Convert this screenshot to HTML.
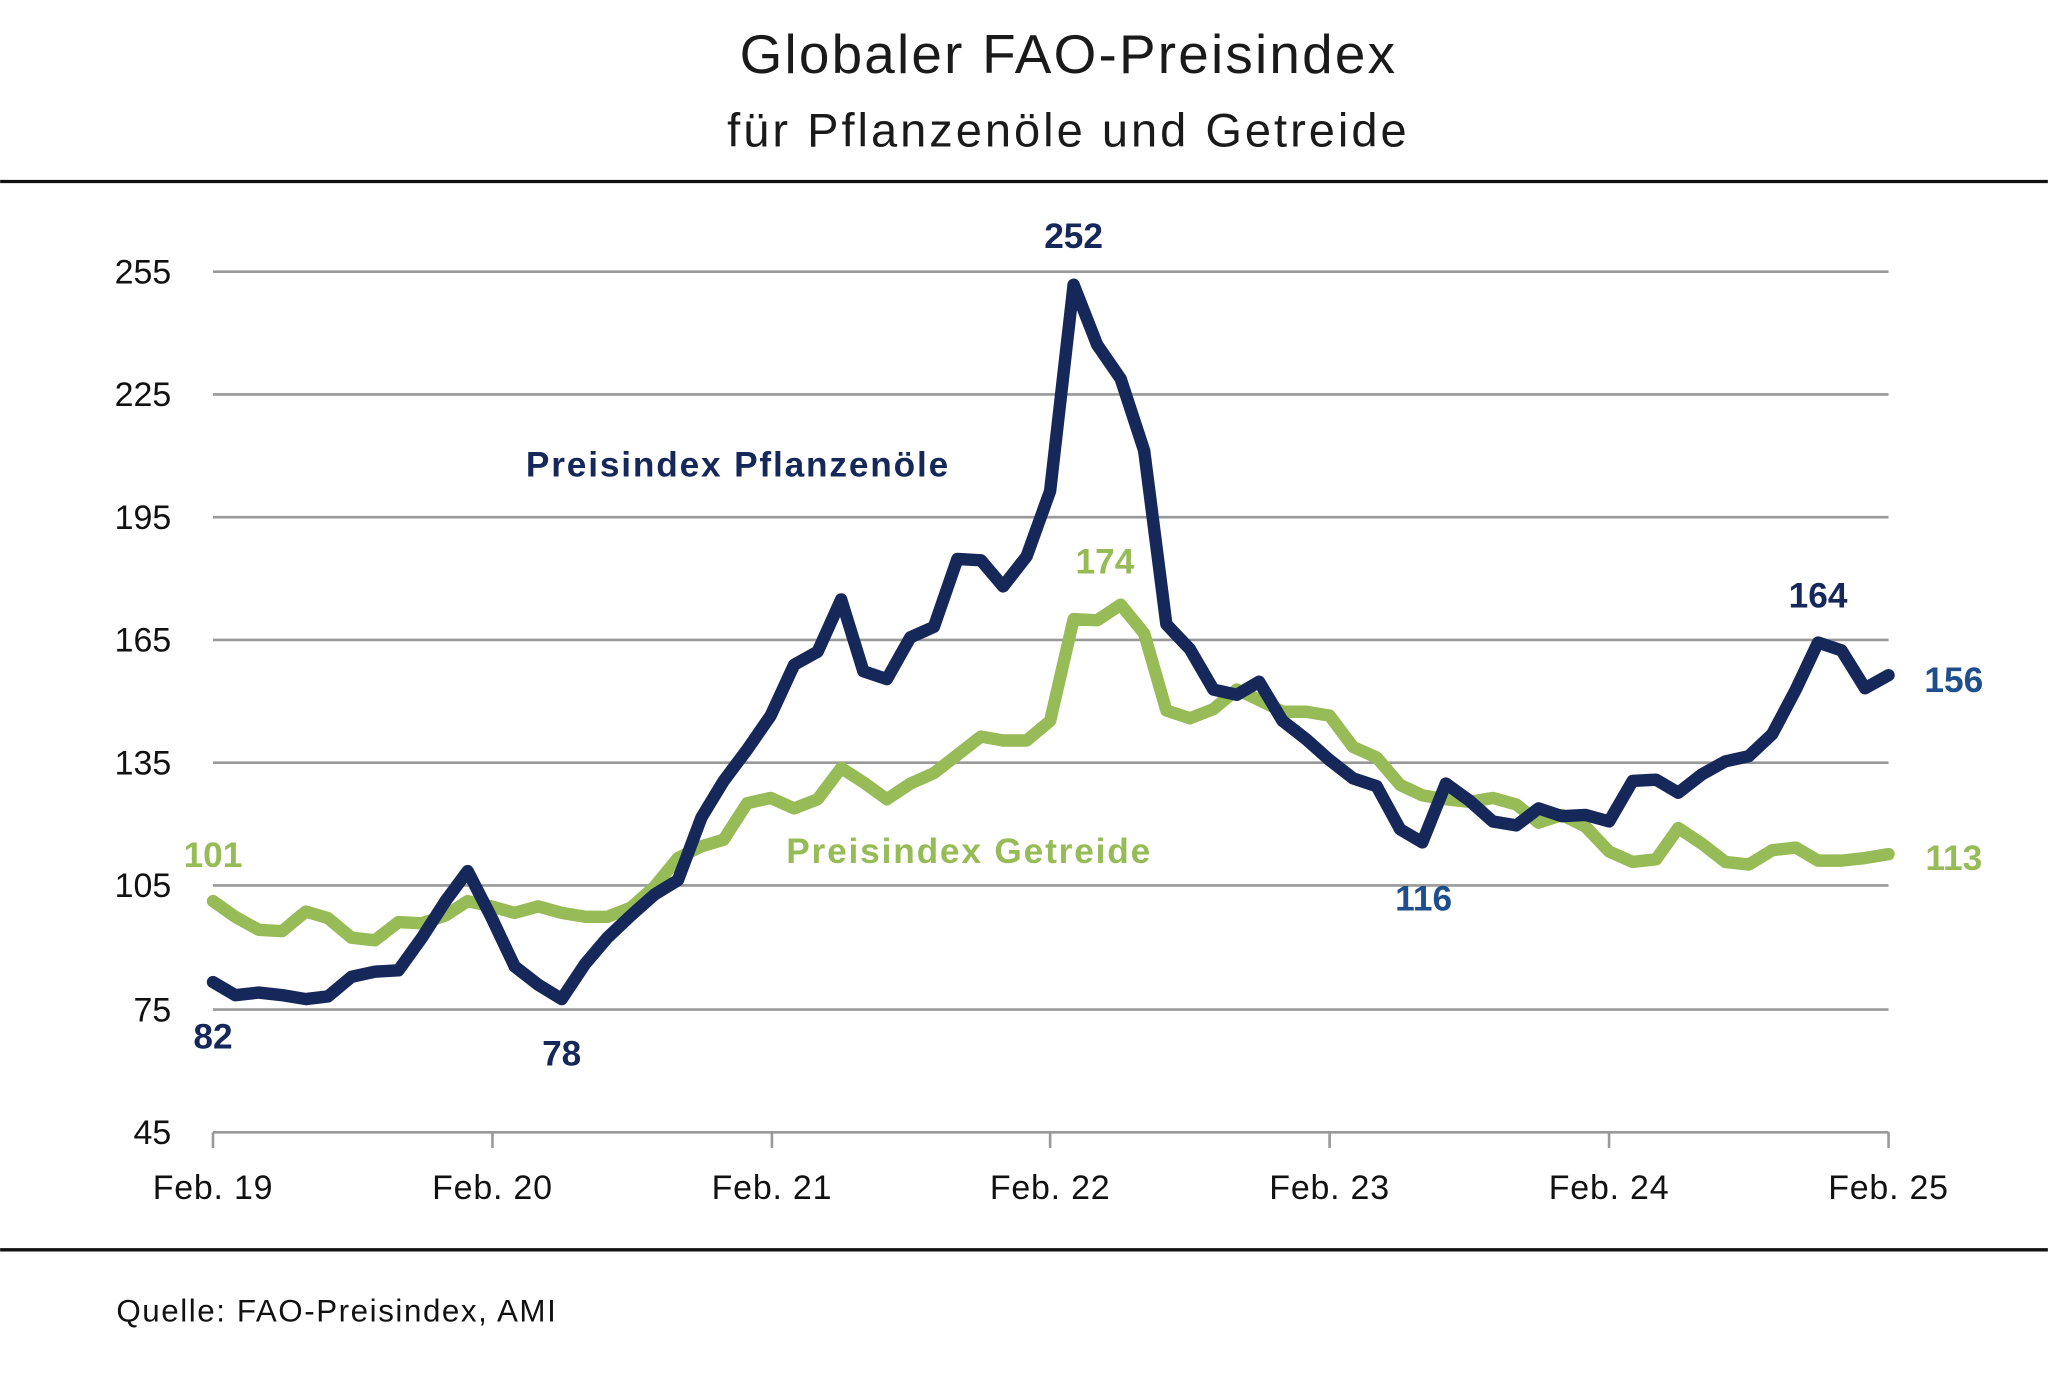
<!DOCTYPE html>
<html><head><meta charset="utf-8"><style>
html,body{margin:0;padding:0;background:#fff;}
svg{display:block;}
text{font-family:"Liberation Sans",sans-serif;}
</style></head><body>
<svg width="2048" height="1400" viewBox="0 0 1568 1072" xmlns="http://www.w3.org/2000/svg">
<rect width="1568" height="1072" fill="#fff"/>
<text x="818" y="56" font-size="42" text-anchor="middle" fill="#1a1a1a" letter-spacing="1.7">Globaler FAO-Preisindex</text>
<text x="818" y="112" font-size="36" text-anchor="middle" fill="#1a1a1a" letter-spacing="2.3">für Pflanzenöle und Getreide</text>
<line x1="0" y1="139" x2="1568" y2="139" stroke="#111" stroke-width="2.5"/>
<line x1="0" y1="957" x2="1568" y2="957" stroke="#111" stroke-width="2.5"/>
<g stroke="#999" stroke-width="2">
<line x1="163" y1="208" x2="1446" y2="208"/>
<line x1="163" y1="302" x2="1446" y2="302"/>
<line x1="163" y1="396" x2="1446" y2="396"/>
<line x1="163" y1="490" x2="1446" y2="490"/>
<line x1="163" y1="584" x2="1446" y2="584"/>
<line x1="163" y1="678" x2="1446" y2="678"/>
<line x1="163" y1="773" x2="1446" y2="773"/>
<line x1="163" y1="867" x2="1446" y2="867"/>
<line x1="163" y1="867" x2="163" y2="879"/>
<line x1="377" y1="867" x2="377" y2="879"/>
<line x1="591" y1="867" x2="591" y2="879"/>
<line x1="804" y1="867" x2="804" y2="879"/>
<line x1="1018" y1="867" x2="1018" y2="879"/>
<line x1="1232" y1="867" x2="1232" y2="879"/>
<line x1="1446" y1="867" x2="1446" y2="879"/>
</g>
<g font-size="26" fill="#111" text-anchor="end">
<text x="131" y="217">255</text><text x="131" y="311">225</text><text x="131" y="405">195</text>
<text x="131" y="499">165</text><text x="131" y="593">135</text><text x="131" y="687">105</text>
<text x="131" y="782">75</text><text x="131" y="876">45</text>
</g>
<g font-size="26" fill="#111" text-anchor="middle" letter-spacing="0.6">
<text x="163" y="918">Feb. 19</text><text x="377" y="918">Feb. 20</text><text x="591" y="918">Feb. 21</text>
<text x="804" y="918">Feb. 22</text><text x="1018" y="918">Feb. 23</text><text x="1232" y="918">Feb. 24</text>
<text x="1446" y="918">Feb. 25</text>
</g>
<polyline fill="none" stroke="#97bb57" stroke-width="9.5" stroke-linejoin="round" stroke-linecap="round" points="163,690 180,702 198,712 216,713 234,698 251,703 269,718 287,720 305,706 323,707 341,701 358,690 376,694 394,699 412,694 430,699 448,702 465,702 483,695 501,679 519,657 537,648 554,643 572,615 590,611 608,619 626,612 644,588 661,599 679,612 697,600 715,592 733,578 751,564 768,567 786,567 804,552 822,474 840,475 858,463 876,485 893,544 911,550 929,543 947,528 964,536 982,545 1000,545 1018,548 1036,572 1054,580 1072,601 1089,609 1107,612 1125,614 1143,611 1161,616 1178,630 1196,624 1214,633 1232,652 1250,660 1268,658 1285,634 1303,646 1321,660 1339,662 1357,651 1375,649 1392,659 1410,659 1428,657 1446,654"/>
<polyline fill="none" stroke="#16285a" stroke-width="9.5" stroke-linejoin="round" stroke-linecap="round" points="163,752 180,762 198,760 216,762 234,765 251,763 269,748 287,744 305,743 323,718 341,690 358,667 376,702 394,740 412,754 430,765 448,738 465,718 483,701 501,685 519,674 537,626 554,598 572,574 590,548 608,509 626,499 644,459 661,514 679,520 697,488 715,480 733,428 751,429 768,449 786,426 804,376 822,218 840,264 858,290 876,345 893,478 911,497 929,528 947,532 964,522 982,552 1000,566 1018,582 1036,596 1054,602 1072,635 1089,645 1107,600 1125,613 1143,629 1161,632 1178,619 1196,625 1214,624 1232,629 1250,598 1268,597 1285,607 1303,593 1321,583 1339,579 1357,562 1375,528 1392,492 1410,498 1428,527 1446,517"/>
<g font-size="27" font-weight="bold">
<text x="565" y="365" text-anchor="middle" fill="#16285a" letter-spacing="1.4">Preisindex Pflanzenöle</text>
<text x="742" y="661" text-anchor="middle" fill="#97bb57" letter-spacing="1.4">Preisindex Getreide</text>
<text x="822" y="190" text-anchor="middle" fill="#16285a">252</text>
<text x="846" y="439" text-anchor="middle" fill="#97bb57">174</text>
<text x="1392" y="465" text-anchor="middle" fill="#16285a">164</text>
<text x="1496" y="530" text-anchor="middle" fill="#1f4e8c">156</text>
<text x="1496" y="666" text-anchor="middle" fill="#97bb57">113</text>
<text x="1090" y="697" text-anchor="middle" fill="#1f4e8c">116</text>
<text x="163" y="664" text-anchor="middle" fill="#97bb57">101</text>
<text x="163" y="803" text-anchor="middle" fill="#16285a">82</text>
<text x="430" y="816" text-anchor="middle" fill="#16285a">78</text>
</g>
<text x="89" y="1012" font-size="24" fill="#111" letter-spacing="1.2">Quelle: FAO-Preisindex, AMI</text>
</svg>
</body></html>
